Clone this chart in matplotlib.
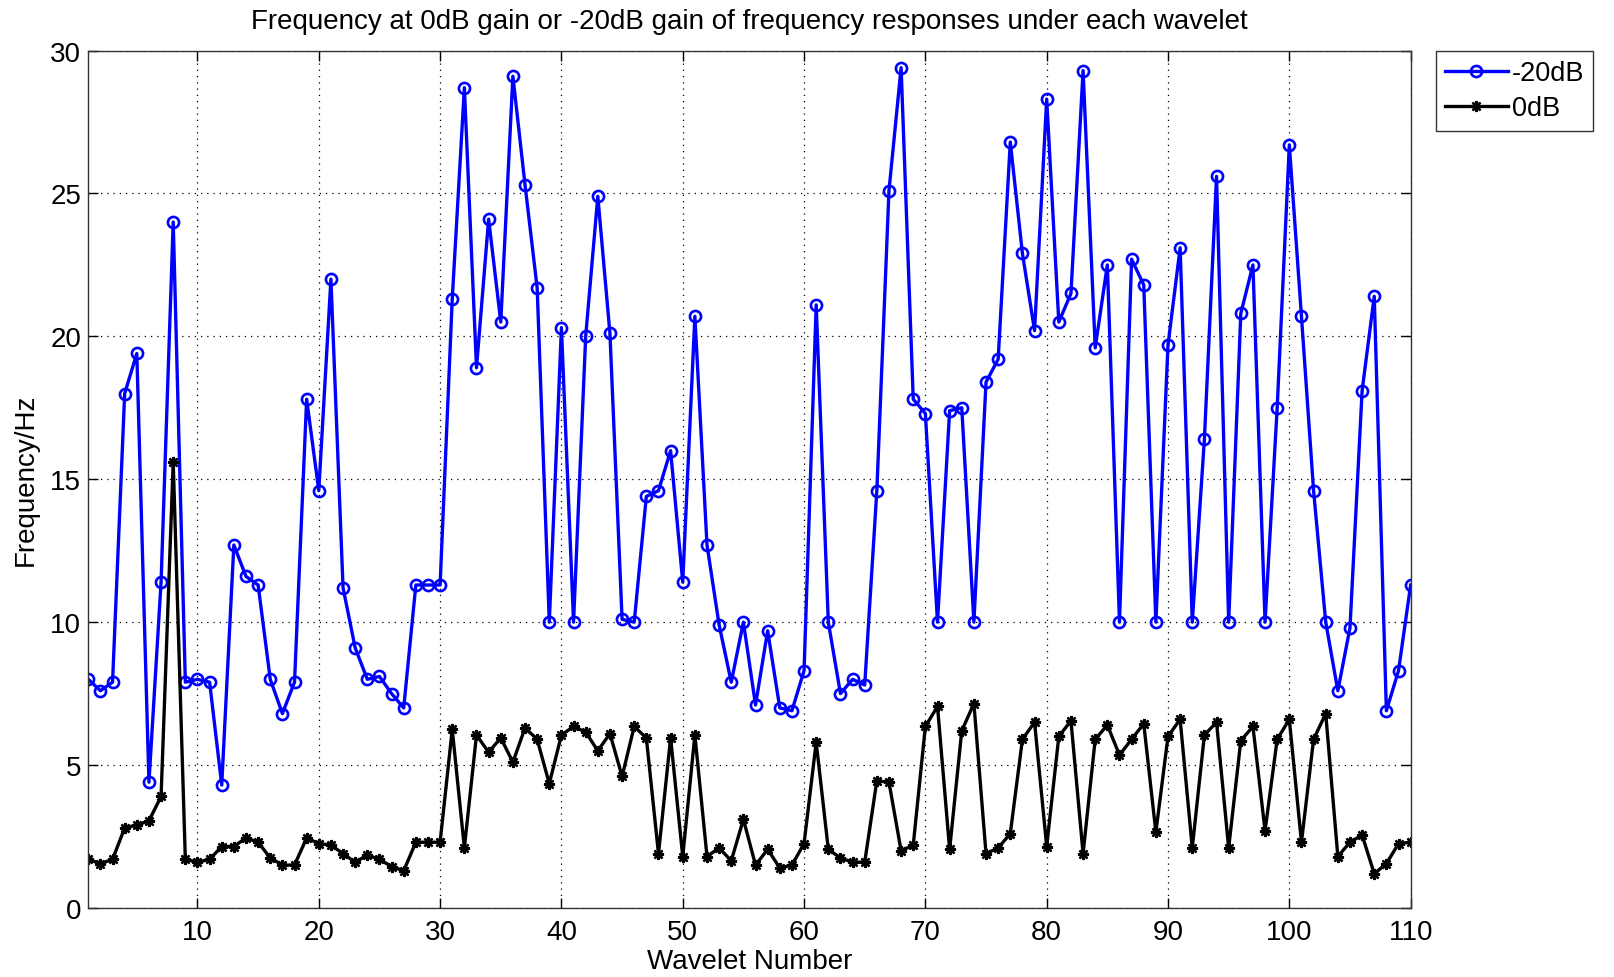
import matplotlib
matplotlib.use("Agg")
import matplotlib.pyplot as plt
import numpy as np

plt.rcParams['font.family'] = ['Liberation Sans', 'DejaVu Sans']

wavelet = list(range(1, 111))

gain_m20db = [
    8.0, 7.6, 7.9, 18.0, 19.4, 4.4, 11.4, 24.0, 7.9, 8.0,
    7.9, 4.3, 12.7, 11.6, 11.3, 8.0, 6.8, 7.9, 17.8, 14.6,
    22.0, 11.2, 9.1, 8.0, 8.1, 7.5, 7.0, 11.3, 11.3, 11.3,
    21.3, 28.7, 18.9, 24.1, 20.5, 29.1, 25.3, 21.7, 10.0, 20.3,
    10.0, 20.0, 24.9, 20.1, 10.1, 10.0, 14.4, 14.6, 16.0, 11.4,
    20.7, 12.7, 9.9, 7.9, 10.0, 7.1, 9.7, 7.0, 6.9, 8.3,
    21.1, 10.0, 7.5, 8.0, 7.8, 14.6, 25.1, 29.4, 17.8, 17.3,
    10.0, 17.4, 17.5, 10.0, 18.4, 19.2, 26.8, 22.9, 20.2, 28.3,
    20.5, 21.5, 29.3, 19.6, 22.5, 10.0, 22.7, 21.8, 10.0, 19.7,
    23.1, 10.0, 16.4, 25.6, 10.0, 20.8, 22.5, 10.0, 17.5, 26.7,
    20.7, 14.6, 10.0, 7.6, 9.8, 18.1, 21.4, 6.9, 8.3, 11.3,
]

gain_0db = [
    1.7, 1.55, 1.7, 2.8, 2.9, 3.05, 3.9, 15.6, 1.7, 1.6,
    1.7, 2.15, 2.15, 2.45, 2.3, 1.75, 1.5, 1.5, 2.45, 2.25,
    2.2, 1.9, 1.6, 1.85, 1.7, 1.45, 1.3, 2.3, 2.3, 2.3,
    6.25, 2.1, 6.05, 5.45, 5.95, 5.1, 6.3, 5.9, 4.35, 6.05,
    6.35, 6.15, 5.5, 6.1, 4.6, 6.35, 5.95, 1.9, 5.95, 1.8,
    6.05, 1.8, 2.1, 1.65, 3.1, 1.5, 2.05, 1.4, 1.5, 2.25,
    5.8, 2.05, 1.75, 1.6, 1.6, 4.45, 4.4, 2.0, 2.2, 6.35,
    7.05, 2.05, 6.2, 7.15, 1.9, 2.1, 2.6, 5.9, 6.5, 2.15,
    6.0, 6.55, 1.9, 5.9, 6.4, 5.35, 5.9, 6.45, 2.65, 6.0,
    6.6, 2.1, 6.05, 6.5, 2.1, 5.85, 6.35, 2.7, 5.9, 6.6,
    2.3, 5.9, 6.8, 1.8, 2.3, 2.55, 1.2, 1.55, 2.25, 2.3,
]

x_ticks = [10, 20, 30, 40, 50, 60, 70, 80, 90, 100, 110]
y_ticks = [0, 5, 10, 15, 20, 25, 30]

fig = plt.figure(figsize=(16.14, 9.78), dpi=100)
ax = fig.add_axes([0.0547, 0.0706, 0.8193, 0.8767])

ax.plot(wavelet, gain_m20db, color='#0000ff', linewidth=2.4, marker='o',
        markersize=8, markerfacecolor='none', markeredgewidth=1.9,
        markeredgecolor='#0000ff', label='-20dB')
ax.plot(wavelet, gain_0db, color='black', linewidth=2.4, marker=(8, 2, 0),
        markersize=8, markeredgewidth=1.7, label='0dB')

ax.set_xlim(1, 110)
ax.set_ylim(0, 30)
ax.set_xticks(x_ticks)
ax.set_yticks(y_ticks)
ax.grid(True, linestyle=(0, (1, 4)), color='black', linewidth=0.9)
ax.tick_params(direction='in', top=True, right=True, length=7, width=1.0,
               labelsize=20, colors='black', pad=5)
ax.tick_params(axis='x', pad=8)
for s in ax.spines.values():
    s.set_linewidth(1.0)
    s.set_color('#333333')

ax.set_title('Frequency at 0dB gain or -20dB gain of frequency responses under each wavelet',
             fontsize=20, pad=16)
ax.set_xlabel('Wavelet Number', fontsize=20, labelpad=2)
ax.set_ylabel('Frequency/Hz', fontsize=20, labelpad=8)

leg = ax.legend(loc='upper left', bbox_to_anchor=(1.019, 1.0), fontsize=19.5,
                frameon=True, fancybox=False, edgecolor='black',
                borderpad=0.35, handlelength=2.3, handletextpad=0.15,
                labelspacing=0.35, borderaxespad=0.0)
leg.get_frame().set_linewidth(1.0)

fig.savefig('out.png', dpi=100)
